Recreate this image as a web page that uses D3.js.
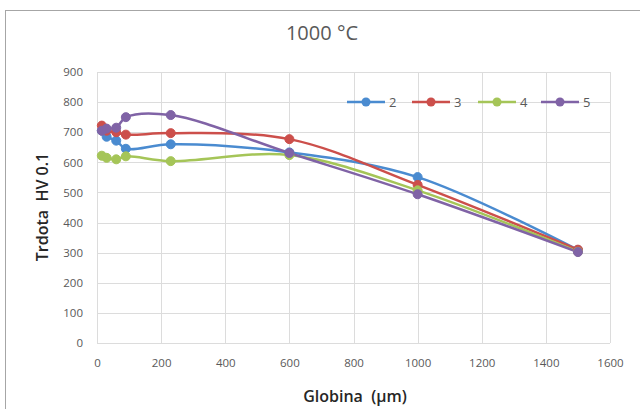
<!DOCTYPE html>
<html><head><meta charset="utf-8">
<script src="https://cdn.jsdelivr.net/npm/d3@7"></script>
<style>body{margin:0;background:#fff;}svg{display:block;} text{white-space:pre;}</style>
</head><body>
<svg id="c" width="640" height="409"></svg>
<script>
const depth = [15, 30, 60, 90, 230, 600, 1000, 1500];
const seriesNames = ["2", "3", "4", "5"];
const s2 = [705, 685, 672, 645, 660, 633, 551, 309];
const s3 = [722, 705, 700, 692, 697, 677, 525, 310];
const s4 = [622, 615, 610, 620, 604, 624, 507, 303];
const s5 = [705, 712, 715, 750, 757, 631, 494, 302];
const xTicks = [0, 200, 400, 600, 800, 1000, 1200, 1400, 1600];
const yTicks = [0, 100, 200, 300, 400, 500, 600, 700, 800, 900];
const colors = ["#4a8bd0", "#cc4f4b", "#a5c558", "#8063a6"];
const allSeries = [s2, s3, s4, s5];

const svg = d3.select("#c");
const font = "'Open Sans', 'Liberation Sans', sans-serif";
svg.append("rect").attr("x",5.5).attr("y",10.5).attr("width",700).attr("height",500)
  .attr("fill","#fff").attr("stroke","#a6a6a6").attr("stroke-width",1);

const x = d3.scaleLinear().domain([0,1600]).range([97,610]);
const y = d3.scaleLinear().domain([0,900]).range([343,72]);

const g = svg.append("g");
g.selectAll(".hg").data(yTicks).join("line")
  .attr("x1",x(0)).attr("x2",x(1600)).attr("y1",d=>Math.round(y(d))+0.5).attr("y2",d=>Math.round(y(d))+0.5)
  .attr("stroke","#dcdcdc").attr("stroke-width",1);
g.selectAll(".vg").data(xTicks).join("line")
  .attr("y1",y(0)).attr("y2",y(900)).attr("x1",d=>Math.round(x(d))+0.5).attr("x2",d=>Math.round(x(d))+0.5)
  .attr("stroke","#dcdcdc").attr("stroke-width",1);

const xAxis = svg.append("g").attr("transform",`translate(0,${y(0)+8})`)
  .call(d3.axisBottom(x).tickValues(xTicks).tickFormat(d3.format("d")).tickSize(0).tickPadding(8));
const yAxis = svg.append("g").attr("transform",`translate(${x(0)-8},0)`)
  .call(d3.axisLeft(y).tickValues(yTicks).tickFormat(d3.format("d")).tickSize(0).tickPadding(6));
[xAxis,yAxis].forEach(a=>{
  a.select(".domain").remove();
  a.selectAll("text").attr("fill","#595959").style("font-family",font).style("font-size","11.5px");
});

const line = d3.line().x((d,i)=>x(depth[i])).y(d=>y(d)).curve(d3.curveCatmullRom.alpha(0.5));
allSeries.forEach((s,k)=>{
  svg.append("path").datum(s).attr("d",line).attr("fill","none")
    .attr("stroke",colors[k]).attr("stroke-width",2.5).attr("stroke-linejoin","round");
});
allSeries.forEach((s,k)=>{
  svg.append("g").selectAll("circle").data(s).join("circle")
    .attr("cx",(d,i)=>x(depth[i])).attr("cy",d=>y(d)).attr("r",4.5)
    .attr("fill",colors[k]).attr("stroke",colors[k]).attr("stroke-width",1);
});

const legX = [347, 412, 478, 541];
const lg = svg.append("g");
seriesNames.forEach((n,k)=>{
  const lx = legX[k], ly = 102;
  lg.append("line").attr("x1",lx).attr("x2",lx+38).attr("y1",ly).attr("y2",ly)
    .attr("stroke",colors[k]).attr("stroke-width",2.5);
  lg.append("circle").attr("cx",lx+19).attr("cy",ly).attr("r",4.5).attr("fill",colors[k]);
  lg.append("text").attr("x",lx+42).attr("y",ly+4.5).text(n)
    .attr("fill","#595959").style("font-family",font).style("font-size","13px");
});

svg.append("text").attr("x",322).attr("y",40).attr("text-anchor","middle").text("1000 °C")
  .attr("fill","#595959").style("font-family",font).style("font-size","20px");
svg.append("text").attr("x",355).attr("y",402).attr("text-anchor","middle").text("Globina  (µm)")
  .attr("fill","#262626").style("font-family",font).style("font-size","16px").style("font-weight","600");
svg.append("text").attr("transform","translate(48,207) rotate(-90)").attr("text-anchor","middle").text("Trdota  HV 0.1")
  .attr("fill","#262626").style("font-family",font).style("font-size","16px").style("font-weight","600");
</script>
</body></html>
